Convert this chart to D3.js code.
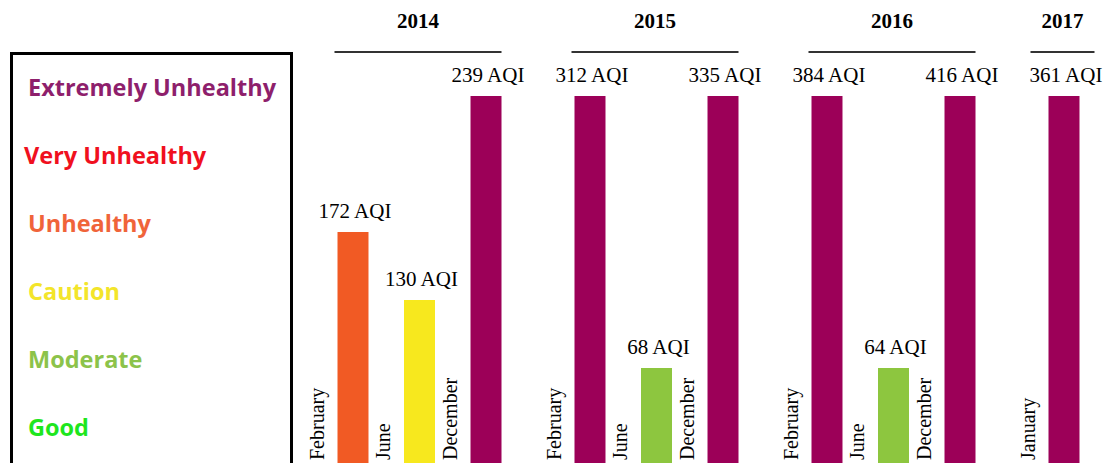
<!DOCTYPE html>
<html lang="en">
  <head>
    <meta charset="utf-8">
    <title>AQI by month</title>
    <script src="https://d3js.org/d3.v7.min.js"></script>
    <style>
      body { margin: 0; background: #fff; }
    </style>
  </head>
  <body>
    <div id="container"></div>
    <script>
      width = 1107;
      height = 463;

      years = ["2014", "2015", "2016", "2017"];
      levels = ["Extremely Unhealthy", "Very Unhealthy", "Unhealthy", "Caution", "Moderate", "Good"];
      levelColors = ["#8e1f6c", "#f0101e", "#f0643a", "#f3e52a", "#8cc34a", "#1ee61e"];

      barYears  = ["2014", "2014", "2014", "2015", "2015", "2015", "2016", "2016", "2016", "2017"];
      months    = ["February", "June", "December", "February", "June", "December", "February", "June", "December", "January"];
      aqi       = [172, 130, 239, 312, 68, 335, 384, 64, 416, 361];
      barLevels = ["Unhealthy", "Caution", "Extremely Unhealthy", "Extremely Unhealthy", "Moderate",
                   "Extremely Unhealthy", "Extremely Unhealthy", "Moderate", "Extremely Unhealthy", "Extremely Unhealthy"];

      barColor = d3.scaleOrdinal()
        .domain(["Extremely Unhealthy", "Unhealthy", "Caution", "Moderate"])
        .range(["#9c0058", "#f15a24", "#f7e81e", "#8dc63f"]);

      // slot of each bar inside its year
      data = aqi.map((v, i) => ({
        year: barYears[i],
        month: months[i],
        value: v,
        level: barLevels[i],
        slot: barYears.slice(0, i).filter(y => y === barYears[i]).length
      }));

      x0 = d3.scalePoint().domain(years).range([337.5, 1048.5]);
      x1 = d3.scaleBand().domain([0, 1, 2]).range([0, 164]).paddingInner(0.534);
      y = d3.scalePoint().domain(levels).range([88, 428]);
      bx = d => x0(d.year) + x1(d.slot);
      barTop = d => y(d.level) + 8;

      const svg = d3.select("#container").append("svg")
          .attr("width", width)
          .attr("height", height);

      // legend
      svg.append("rect")
          .attr("x", 11.5).attr("y", 53.5)
          .attr("width", 280).attr("height", 420)
          .attr("fill", "none")
          .attr("stroke", "#000")
          .attr("stroke-width", 3);

      svg.append("g")
          .attr("font-family", "'Open Sans', sans-serif")
          .attr("font-weight", 700)
          .attr("font-size", 23.5)
        .selectAll("text")
        .data(levels)
        .join("text")
          .attr("x", (d, i) => i === 1 ? 24 : 28)
          .attr("y", d => y(d))
          .attr("dy", "0.35em")
          .attr("fill", (d, i) => levelColors[i])
          .text(d => d);

      // year headers
      const groups = years.map(yr => {
        const ds = data.filter(d => d.year === yr);
        let a = bx(ds[0]) - 3, b = bx(ds[ds.length - 1]) + x1.bandwidth();
        if (ds.length === 1) { const c = (a + b) / 2; a = c - 32; b = c + 32; }
        return {year: yr, a, b};
      });

      svg.append("g")
          .attr("stroke", "#333")
          .attr("stroke-width", 2)
        .selectAll("line")
        .data(groups)
        .join("line")
          .attr("x1", d => d.a).attr("x2", d => d.b)
          .attr("y1", 52).attr("y2", 52);

      svg.append("g")
          .attr("font-family", "'Liberation Serif', 'Times New Roman', serif")
          .attr("font-weight", 700)
          .attr("font-size", 21)
          .attr("text-anchor", "middle")
        .selectAll("text")
        .data(groups)
        .join("text")
          .attr("x", d => (d.a + d.b) / 2)
          .attr("y", 28)
          .text(d => d.year);

      // bars
      svg.append("g")
        .selectAll("rect")
        .data(data)
        .join("rect")
          .attr("x", bx)
          .attr("y", barTop)
          .attr("width", x1.bandwidth())
          .attr("height", d => height - barTop(d))
          .attr("fill", d => barColor(d.level));

      // value labels
      svg.append("g")
          .attr("font-family", "'Liberation Serif', 'Times New Roman', serif")
          .attr("font-size", 21)
          .attr("text-anchor", "middle")
        .selectAll("text")
        .data(data)
        .join("text")
          .attr("x", d => bx(d) + x1.bandwidth() / 2 + 2)
          .attr("y", d => barTop(d) - 14)
          .text(d => `${d.value} AQI`);

      // month labels
      svg.append("g")
          .attr("font-family", "'Liberation Serif', 'Times New Roman', serif")
          .attr("font-size", 20)
        .selectAll("text")
        .data(data)
        .join("text")
          .attr("transform", d => `translate(${bx(d) - 14},460) rotate(-90)`)
          .text(d => d.month);
    </script>
  </body>
</html>
